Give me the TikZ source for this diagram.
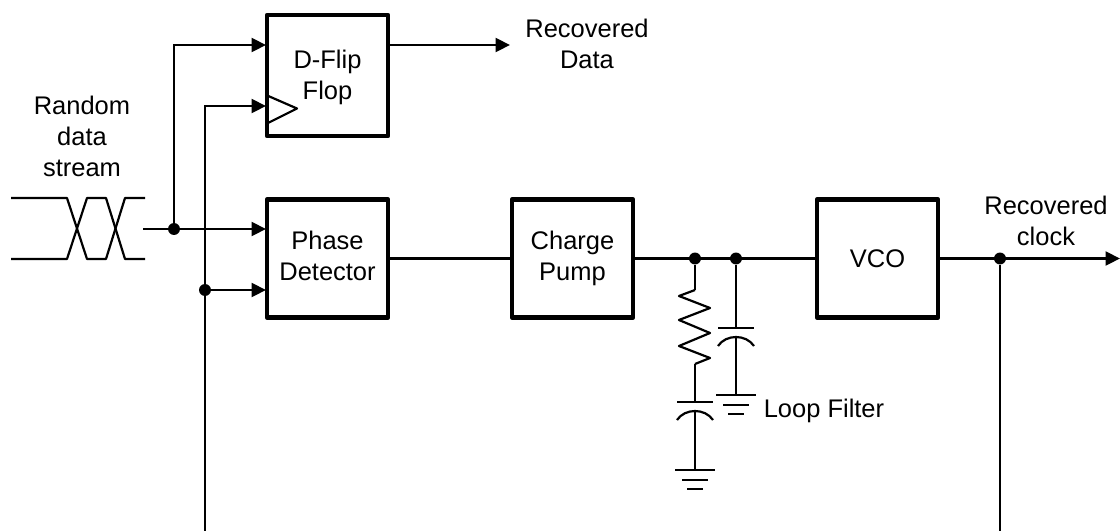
\documentclass[tikz,border=0pt]{standalone}
\usepackage{fontspec}
\setmainfont{Liberation Sans}
\usetikzlibrary{arrows.meta}
\tikzstyle{block}=[draw,line width=2.6pt,minimum width=2.42cm,minimum height=2.36cm,align=center,inner sep=0pt,font=\fontsize{14.5}{17.6}\selectfont,line join=round]
\tikzstyle{caption}=[align=center,inner sep=0pt,font=\fontsize{14.5}{17.6}\selectfont]
\tikzstyle{junction}=[circle,fill=black,minimum size=6.8pt,inner sep=0pt]
\tikzstyle{wire}=[draw,line width=1.25pt]
\tikzstyle{arrowwire}=[wire,-{Triangle[length=0.29cm,width=0.28cm]}]
\tikzstyle{part}=[line width=1.25pt,line join=round]
\begin{document}
\begin{tikzpicture}[x=0.02cm,y=-0.02cm]
    \useasboundingbox (0,0) rectangle (1120,531);
    % First we draw the blocks
    \node[block,minimum height=2.42cm] (dff) at (327.5,75.5) {\rule{0pt}{0.45cm}D-Flip\\Flop};
    \foreach \pos/\name/\txt in {{(327.5,258.5)/pd/Phase\\Detector\vphantom{p}}, {(572.5,258.5)/cp/Charge\\Pump}, {(877.5,258.5)/vco/VCO}}
        \node[block] (\name) at \pos {\txt};

    % Labels
    \node[caption] (stream) at (82,136) {Random\\data\\stream};
    \node[caption] (rdata) at (587,44) {Recovered\\Data};
    \node[caption] (rclock) at (1046,221) {Recovered\\clock};
    \node[caption] (loop) at (824,411) {Loop Filter};

    % Junctions and free ends
    \foreach \pos/\name in {{(174,229)/jdata}, {(205,290)/jclk}, {(695,258.5)/jres}, {(736,258.5)/jcap}, {(1000,258.5)/jout}}
        \node[junction] (\name) at \pos {};
    \foreach \pos/\name in {{(143,229)/datain}, {(266,45)/dffd}, {(266,106)/dffclk}, {(266,229)/pda}, {(266,290)/pdb},
        {(389,45)/dffq}, {(510,45)/qout}, {(1120,258.5)/clkout}, {(205,531)/fbleft}, {(1000,531)/fbright},
        {(695,290)/resa}, {(695,364)/resc}, {(695,402)/resb}, {(695,410)/capa}, {(695,470)/gnda}, {(736,328)/capc}, {(736,337)/capd}, {(736,395)/gndb}}
        \node[coordinate] (\name) at \pos {};

    % Connect blocks with wires
    \path[wire] (datain) -- (jdata);
    \path[arrowwire] (jdata) -- (pda);
    \path[arrowwire] (jdata) |- (dffd);
    \path[arrowwire] (fbleft) |- (dffclk);
    \path[arrowwire] (jclk) -- (pdb);
    \path[arrowwire] (dffq) -- (qout);
    \foreach \source/\dest in {pd.east/cp.west, cp.east/vco.west, jout/fbright, jres/resa, jcap/capc, resc/resb, capa/gnda, capd/gndb}
        \path[wire] (\source) -- (\dest);
    \path[arrowwire] (vco.east) -- (clkout);

    % Clock mark of the flip flop
    \draw[part] (266,95) -- (297,108.5) -- (266,124);

    % Random data eye
    \draw[part] (11,198) -- (67,198) -- (87,259) -- (106,259) -- (125,198) -- (145,198);
    \draw[part] (11,259) -- (67,259) -- (87,198) -- (106,198) -- (125,259) -- (145,259);

    % Resistor
    \draw[part] (resa) -- (679,296) -- (710,308) -- (679,320) -- (710,333) -- (679,346) -- (710,358) -- (resc);

    % Capacitors
    \foreach \x/\ya/\yb in {695/402/420, 736/328/346}
    {
        \draw[part] (\x-18,\ya) -- (\x+18,\ya);
        \draw[part] (\x-18,\yb) .. controls (\x-10,\yb-12) and (\x+10,\yb-12) .. (\x+18,\yb);
    }

    % Grounds
    \foreach \x/\y in {695/470, 736/395}
    {
        \draw[part] (\x-20,\y) -- (\x+20,\y);
        \draw[part] (\x-13,\y+10) -- (\x+13,\y+10);
        \draw[part] (\x-8,\y+19) -- (\x+8,\y+19);
    }
\end{tikzpicture}
\end{document}
